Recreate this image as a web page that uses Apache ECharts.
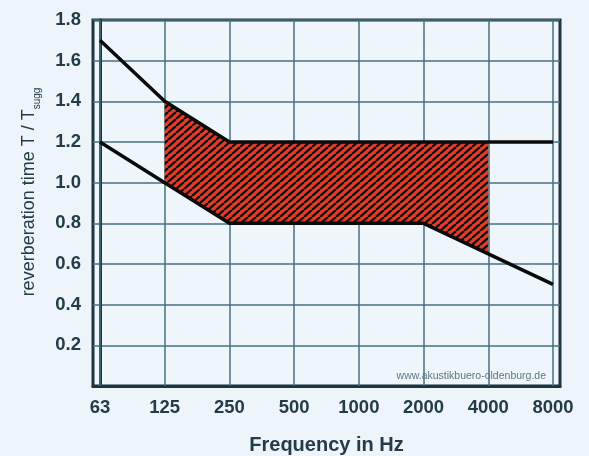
<!DOCTYPE html>
<html>
<head>
<meta charset="utf-8">
<script src="https://cdn.jsdelivr.net/npm/echarts@6/dist/echarts.min.js"></script>
<style>
html,body{margin:0;padding:0;background:#edf4fa;}
#chart{width:589px;height:456px;}
</style>
</head>
<body>
<div id="chart"></div>
<script>
const freqLabels = ['63','125','250','500','1000','2000','4000','8000'];
const upperLimit = [1.7, 1.4, 1.2, 1.2, 1.2, 1.2, 1.2, 1.2];
const lowerLimit = [1.2, 1.0, 0.8, 0.8, 0.8, 0.8, 0.65, 0.5];
const bandFrom = 1; // 125 Hz
const bandTo = 6;   // 4000 Hz
const yTicks = [0.2, 0.4, 0.6, 0.8, 1.0, 1.2, 1.4, 1.6, 1.8];
const watermark = 'www.akustikbuero-oldenburg.de';

function hatchPattern() {
  const w = 8, h = 7;
  const c = document.createElement('canvas');
  c.width = w; c.height = h;
  const ctx = c.getContext('2d');
  ctx.fillStyle = '#e63b27';
  ctx.fillRect(0, 0, w, h);
  ctx.strokeStyle = '#0d0d0d';
  ctx.lineWidth = 2.3;
  for (let k = -1; k <= 1; k++) {
    ctx.beginPath();
    ctx.moveTo(k * w, h);
    ctx.lineTo(k * w + w, 0);
    ctx.stroke();
  }
  return c;
}

const idx = freqLabels.map((_, i) => i);
const upperData = idx.map(i => [i, upperLimit[i]]);
const lowerData = idx.map(i => [i, lowerLimit[i]]);
const bandIdx = idx.filter(i => i >= bandFrom && i <= bandTo);
const bandData = bandIdx.map(i => [i, lowerLimit[i], upperLimit[i]]);
const pattern = hatchPattern();

const chart = echarts.init(document.getElementById('chart'), null, {renderer: 'canvas'});
const gridColor = '#46707f';
const frameColor = '#1c3540';
const textColor = '#233c47';

chart.setOption({
  backgroundColor: '#edf4fa',
  animation: false,
  title: {
    text: watermark,
    right: 38,
    top: 366,
    textStyle: {fontSize: 10.5, fontWeight: 'normal', color: '#5f7884', fontFamily: 'Liberation Sans'}
  },
  grid: {
    left: 93, right: 29, top: 20, bottom: 70,
    outerBoundsMode: 'none',
    containLabel: false,
    show: true,
    backgroundColor: '#eef5fb',
    borderColor: frameColor,
    borderWidth: 3
  },
  xAxis: {
    type: 'value',
    min: -0.108,
    max: 7.108,
    name: 'Frequency in Hz',
    nameLocation: 'middle',
    nameGap: 49,
    nameTextStyle: {fontSize: 20, fontWeight: 'bold', color: textColor, fontFamily: 'Liberation Sans'},
    axisLine: {show: true, lineStyle: {color: frameColor, width: 3}},
    axisTick: {show: false},
    splitLine: {show: false},
    axisLabel: {
      customValues: idx,
      margin: 12,
      fontSize: 18.5,
      fontWeight: 'bold',
      color: textColor,
      fontFamily: 'Liberation Sans',
      formatter: v => freqLabels[Math.round(v)] || ''
    }
  },
  yAxis: {
    type: 'value',
    min: 0,
    max: 1.8,
    interval: 0.2,
    name: '{a|reverberation time T / T}{s|sugg}',
    nameLocation: 'middle',
    nameGap: 55,
    nameRotate: 90,
    nameTextStyle: {
      color: textColor,
      fontFamily: 'Liberation Sans',
      padding: [0, 0, 0, 22],
      rich: {
        a: {fontSize: 18, color: textColor, fontFamily: 'Liberation Sans', verticalAlign: 'bottom'},
        s: {fontSize: 10, color: textColor, fontFamily: 'Liberation Sans', verticalAlign: 'bottom', padding: [0, 0, -4, 0]}
      }
    },
    axisLine: {show: true, lineStyle: {color: frameColor, width: 3}},
    axisTick: {show: false},
    splitLine: {show: true, lineStyle: {color: gridColor, width: 1.5}},
    axisLabel: {
      margin: 12,
      fontSize: 18.5,
      fontWeight: 'bold',
      color: textColor,
      fontFamily: 'Liberation Sans',
      formatter: v => (yTicks.some(t => Math.abs(t - v) < 1e-6) ? v.toFixed(1) : '')
    }
  },
  series: [
    {
      name: 'gridX',
      type: 'line',
      data: [],
      silent: true,
      markLine: {
        silent: true,
        z: 1,
        symbol: ['none', 'none'],
        label: {show: false},
        lineStyle: {color: gridColor, width: 1.5, type: 'solid'},
        emphasis: {disabled: true},
        data: idx.map(i => ({xAxis: i}))
      }
    },
    {
      name: 'band',
      type: 'custom',
      data: bandData,
      silent: true,
      z: 2,
      renderItem: function (params, api) {
        if (params.dataIndex !== 0) return null;
        const top = [], bottom = [];
        for (let j = 0; j < bandData.length; j++) {
          const d = bandData[j];
          bottom.push(api.coord([d[0], d[1]]));
          top.push(api.coord([d[0], d[2]]));
        }
        const points = bottom.concat(top.reverse());
        return {
          type: 'polygon',
          shape: {points: points},
          style: {fill: {image: pattern, repeat: 'repeat'}, stroke: null}
        };
      }
    },
    {
      name: 'upper',
      type: 'line',
      data: upperData,
      symbol: 'none',
      silent: true,
      lineStyle: {color: '#0a0a0a', width: 3.5},
      z: 3
    },
    {
      name: 'lower',
      type: 'line',
      data: lowerData,
      symbol: 'none',
      silent: true,
      lineStyle: {color: '#0a0a0a', width: 3.5},
      z: 3
    }
  ]
});
</script>
</body>
</html>
